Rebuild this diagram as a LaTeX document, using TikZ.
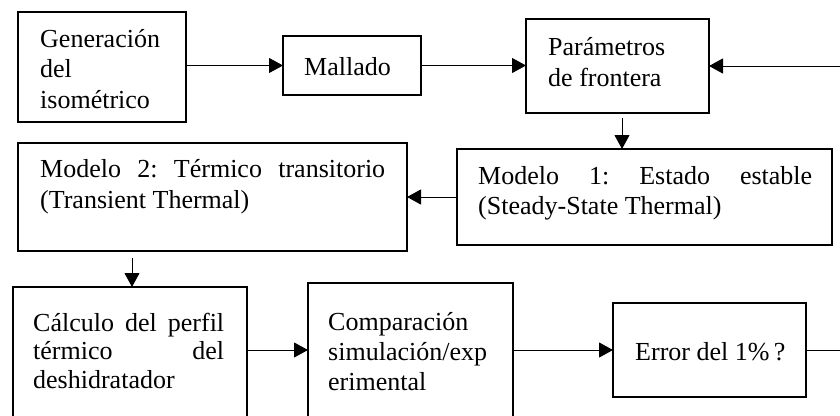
\documentclass[tikz,border=0pt]{standalone}
\usepackage{fontspec}
\setmainfont{Liberation Serif}
\usetikzlibrary{arrows.meta}
\newcommand\tboxtxt[2]{\parbox[t]{#1}{#2}}
\begin{document}
\begin{tikzpicture}[x=1pt,y=1pt,
  box/.style={draw, line width=2.3pt, inner sep=0pt, outer sep=0pt, minimum width=#1},
  bh/.style={minimum height=#1},
  arr/.style={line width=1pt, -{Triangle[length=14pt,width=15pt]}},
  conn/.style={line width=1pt},
  txt/.style={anchor=base west, inner sep=0pt, font=\fontsize{26}{30.5}\selectfont}]
\useasboundingbox (0,0) rectangle (840,-415);
\clip (0,0) rectangle (840,-415);
% boxes
\node[box=168pt, bh=110pt] (gen)   at (102,-67)   {};
\node[box=138pt, bh=59pt]  (mall)  at (352,-65.5) {};
\node[box=183pt, bh=94pt]  (param) at (617.5,-66) {};
\node[box=375pt, bh=96pt]  (m1)    at (644.5,-197) {};
\node[box=389pt, bh=108pt] (m2)    at (212.5,-197) {};
\node[box=234pt, bh=153pt] (calc)  at (130,-363.5) {};
\node[box=205pt, bh=157pt] (comp)  at (410.5,-361.5) {};
\node[box=193pt, bh=94pt]  (err)   at (709.5,-350) {};
% texts
\node[txt] (tgen) at (40,-47) {\tboxtxt{140pt}{Generación\\del\\isométrico}};
\node[txt] (tmall) at (304,-75) {Mallado};
\node[txt] (tparam) at (548,-55) {\tboxtxt{150pt}{\baselineskip=31.5pt Parámetros\\de frontera}};
\node[txt] (tm1) at (478,-184) {\tboxtxt{334pt}{Modelo\hfill 1:\hfill Estado\hfill estable\\(Steady-State Thermal)}};
\node[txt] (tm2) at (40,-177) {\tboxtxt{345pt}{\baselineskip=31pt Modelo\hfill 2:\hfill Térmico\hfill transitorio\\(Transient Thermal)}};
\node[txt] (tcalc) at (33,-331) {\tboxtxt{191pt}{\baselineskip=28.5pt Cálculo\hfill del\hfill perfil\\térmico\hfill del\\deshidratador}};
\node[txt] (tcomp) at (328,-330) {\tboxtxt{180pt}{\baselineskip=30pt Comparación\\simulación/exp\\erimental}};
\node[txt] (terr) at (635,-360) {Error del 1\%\,?};
% connectors
\coordinate (rin) at (840,-66);
\coordinate (a1) at (622,-118);
\coordinate (a2) at (132,-258);
\coordinate (rout) at (840,-350);
\draw[arr] (mall.west -| gen.east) -- (mall.west);
\draw[arr] (mall.east) -- (mall.east -| param.west);
\draw[arr] (rin) -- (param.east);
\draw[arr] (a1) -- (a1 |- m1.north);
\draw[arr] (m1.west) -- (m2.east);
\draw[arr] (a2) -- (a2 |- calc.north);
\draw[arr] (calc.east |- err.west) -- (comp.west |- err.west);
\draw[arr] (comp.east |- err.west) -- (err.west);
\draw[conn] (err.east) -- (rout);
\end{tikzpicture}
\end{document}
